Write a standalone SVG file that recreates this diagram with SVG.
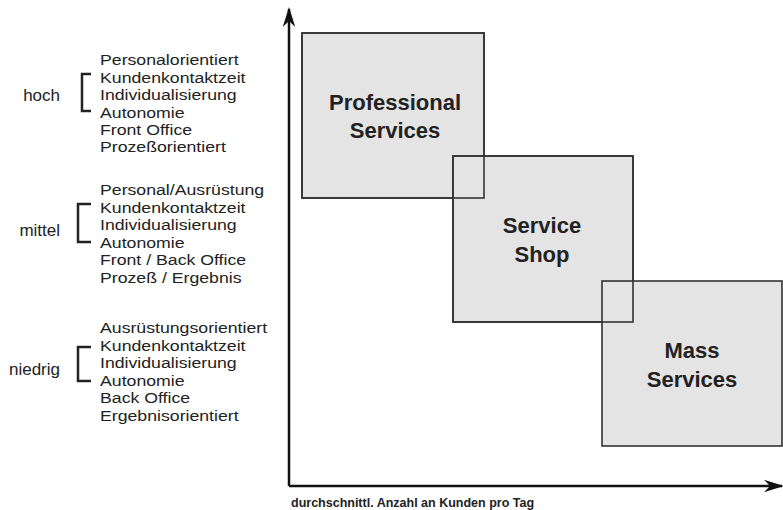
<svg xmlns="http://www.w3.org/2000/svg" width="783" height="510" viewBox="0 0 783 510">
<style>
.lbl{font-family:"Liberation Sans",Arial,sans-serif;font-size:15px;fill:#222}
.cat{font-family:"Liberation Sans",Arial,sans-serif;font-size:17px;fill:#222;text-anchor:end}
.box{fill:#e4e4e4;stroke:#333;stroke-width:1.6}
.edge{fill:none;stroke:#333;stroke-width:1.6}
.title{font-family:"Liberation Sans",Arial,sans-serif;font-size:22px;font-weight:bold;fill:#222;text-anchor:middle}
.brk{fill:none;stroke:#222;stroke-width:2.5}
.axis{stroke:#111;stroke-width:2.5;fill:none}
.axl{font-family:"Liberation Sans",Arial,sans-serif;font-size:12.5px;font-weight:bold;fill:#222}
</style>
<defs>
<marker id="arr" viewBox="0 0 10 10" refX="9" refY="5" markerWidth="8" markerHeight="5" markerUnits="strokeWidth" orient="auto" preserveAspectRatio="none">
<path d="M0,0 L10,5 L0,10 L3,5 Z" fill="#111"/>
</marker>
</defs>
<rect width="783" height="510" fill="#fff"/>
<g id="legend-hoch">
<text class="cat" x="60" y="101">hoch</text>
<path class="brk" d="M91,74 H82 V111 H91"/>
<g transform="translate(100,0) scale(1.18,1)">
<text class="lbl" x="0" y="65">Personalorientiert</text>
<text class="lbl" x="0" y="83">Kundenkontaktzeit</text>
<text class="lbl" x="0" y="100">Individualisierung</text>
<text class="lbl" x="0" y="118">Autonomie</text>
<text class="lbl" x="0" y="135">Front Office</text>
<text class="lbl" x="0" y="152">Prozeßorientiert</text>
</g>
</g>
<g id="legend-mittel">
<text class="cat" x="60" y="236">mittel</text>
<path class="brk" d="M91,204 H78 V242 H91"/>
<g transform="translate(100,0) scale(1.18,1)">
<text class="lbl" x="0" y="195">Personal/Ausrüstung</text>
<text class="lbl" x="0" y="213">Kundenkontaktzeit</text>
<text class="lbl" x="0" y="230">Individualisierung</text>
<text class="lbl" x="0" y="248">Autonomie</text>
<text class="lbl" x="0" y="265">Front / Back Office</text>
<text class="lbl" x="0" y="283">Prozeß / Ergebnis</text>
</g>
</g>
<g id="legend-niedrig">
<text class="cat" x="60" y="375">niedrig</text>
<path class="brk" d="M91,347 H78 V381 H91"/>
<g transform="translate(100,0) scale(1.18,1)">
<text class="lbl" x="0" y="333">Ausrüstungsorientiert</text>
<text class="lbl" x="0" y="351">Kundenkontaktzeit</text>
<text class="lbl" x="0" y="368">Individualisierung</text>
<text class="lbl" x="0" y="386">Autonomie</text>
<text class="lbl" x="0" y="403">Back Office</text>
<text class="lbl" x="0" y="421">Ergebnisorientiert</text>
</g>
</g>
<g id="professional">
<rect class="box" x="302" y="33" width="182" height="165"/>
</g>
<g id="service-shop">
<rect class="box" x="453" y="156" width="180" height="166"/>
</g>
<g id="mass">
<rect class="box" x="602" y="281" width="180" height="165"/>
</g>
<g id="edges">
<rect class="edge" x="302" y="33" width="182" height="165"/>
<rect class="edge" x="453" y="156" width="180" height="166"/>
<line class="axis" x1="289" y1="486" x2="289" y2="9" marker-end="url(#arr)"/>
<line class="axis" x1="289" y1="486" x2="782" y2="486" marker-end="url(#arr)"/>
</g>
<g id="labels">
<text class="title" x="395" y="110">Professional</text>
<text class="title" x="395" y="138">Services</text>
<text class="title" x="542" y="233">Service</text>
<text class="title" x="542" y="262">Shop</text>
<text class="title" x="692" y="358">Mass</text>
<text class="title" x="692" y="387">Services</text>
<text class="axl" x="291" y="507">durchschnittl. Anzahl an Kunden pro Tag</text>
</g>
</svg>
